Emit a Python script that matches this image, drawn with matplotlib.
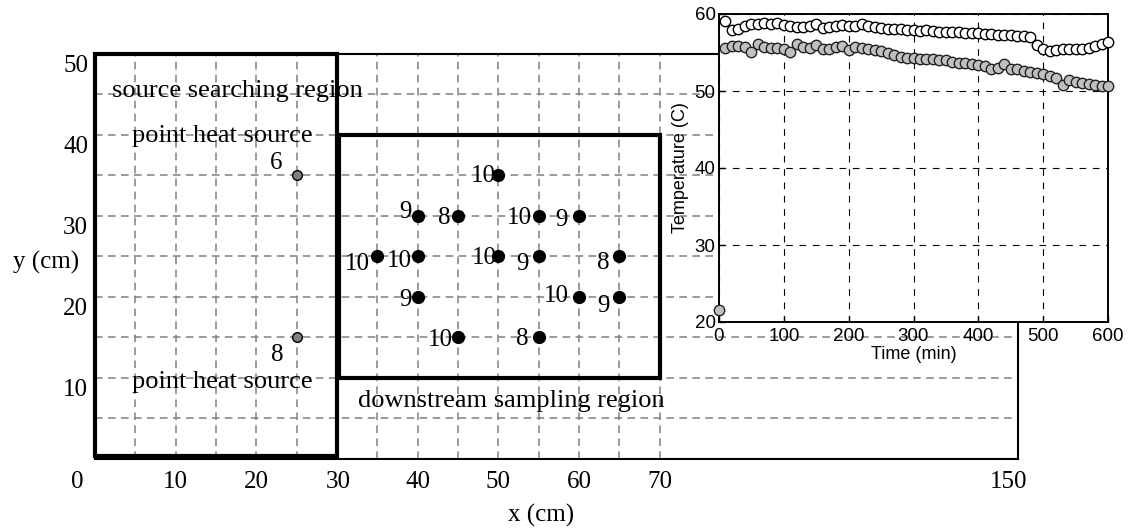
"""Source-searching test bed: sampling layout with an inset of the two heat-source temperatures."""
import numpy as np
import matplotlib
matplotlib.use("Agg")
import matplotlib.pyplot as plt
from matplotlib.patches import Rectangle
from matplotlib.transforms import ScaledTranslation

SERIF = "Liberation Serif"
SANS = "Liberation Sans"

# point heat sources (grey) and downstream sampling points (black), with their counts
SRC_X = [25, 25]
SRC_Y = [35, 15]
SRC_N = ["6", "8"]
SAMP_X = [50, 40, 45, 55, 60, 35, 40, 50, 55, 65, 40, 60, 65, 45, 55]
SAMP_Y = [35, 30, 30, 30, 30, 25, 25, 25, 25, 25, 20, 20, 20, 15, 15]
SAMP_N = ["10", "9", "8", "10", "9", "10", "10", "10", "9", "8", "9", "10", "9", "10", "8"]

X_TICK_LABELS = ["0", "10", "20", "30", "40", "50", "60", "70", "150"]
Y_TICKS = [10, 20, 30, 40, 50]

# inset: source temperatures, sampled every 10 min
OPEN_T = list(range(10, 601, 10))
OPEN_TEMP = [59.1, 57.9, 58.1, 58.4, 58.7, 58.7, 58.8, 58.7, 58.8, 58.6,
             58.5, 58.3, 58.3, 58.4, 58.7, 58.2, 58.3, 58.4, 58.6, 58.4,
             58.5, 58.7, 58.5, 58.3, 58.2, 58.1, 58.0, 58.0, 57.9, 57.9,
             57.8, 57.9, 57.8, 57.6, 57.7, 57.6, 57.6, 57.5, 57.5, 57.5,
             57.4, 57.4, 57.3, 57.3, 57.3, 57.2, 57.2, 57.0, 56.0, 55.4,
             55.2, 55.3, 55.5, 55.4, 55.4, 55.5, 55.6, 55.8, 56.1, 56.4]
GRAY_T = list(range(0, 601, 10))
GRAY_TEMP = [21.6,
             55.6, 55.8, 55.8, 55.7, 55.1, 56.1, 55.7, 55.6, 55.6, 55.5,
             55.1, 56.1, 55.7, 55.6, 56.0, 55.4, 55.5, 55.7, 55.8, 55.3,
             55.7, 55.6, 55.5, 55.3, 55.2, 55.0, 54.7, 54.4, 54.3, 54.3,
             54.2, 54.2, 54.1, 54.0, 54.0, 53.8, 53.6, 53.6, 53.5, 53.4,
             53.2, 52.9, 53.0, 53.5, 52.8, 52.9, 52.6, 52.5, 52.4, 52.2,
             52.0, 51.7, 50.8, 51.4, 51.2, 51.1, 50.9, 50.8, 50.7, 50.6]

# label offsets from each dot, in pixels (right edge of text, +down)
SRC_OFF = [(-14, -12), (-13, 18)]
SAMP_OFF = [(-3, 1), (-6, -3), (-8, 3), (-7, 2), (-11, 5), (-8, 8), (-6, 5), (-2, 2),
            (-10, 8), (-10, 7), (-6, 3), (-10, 0), (-10, 9), (-5, 3), (-10, 2)]

fig = plt.figure(figsize=(11.29, 5.31), dpi=100)
ax = fig.add_axes([95 / 1129, 1 - 458.5 / 531, 923 / 1129, 405 / 531])
XMAX = 114.4
for s in ax.spines.values():
    s.set_linewidth(1.5)

ax.set_xticks([0, 10, 20, 30.2, 40, 50, 60, 70, 113.2], X_TICK_LABELS)
ax.set_yticks(Y_TICKS)
ax.set_xlim(0, XMAX)
ax.set_ylim(0, 50)

grid_kw = dict(colors="#808080", linestyles=(0, (5, 3.5)), linewidth=1.1, zorder=1)
ax.vlines(np.arange(5, 71, 5), 0, 50, **grid_kw)
ax.hlines(np.arange(5, 46, 5), 0, XMAX, **grid_kw)

ax.add_patch(Rectangle((0, 0.35), 30, 49.65, fill=False, lw=3, ec="black", zorder=3, clip_on=False))
ax.add_patch(Rectangle((30.2, 10), 39.8, 30, fill=False, lw=3, ec="black", zorder=3))

ax.text(2.1, 44.6, "source searching region", fontsize=19, family=SERIF, zorder=4)
ax.text(4.6, 39.1, "point heat source", fontsize=19, family=SERIF, zorder=4)
ax.text(4.6, 8.7, "point heat source", fontsize=19, family=SERIF, zorder=4)
ax.text(32.6, 6.4, "downstream sampling region", fontsize=19, family=SERIF, zorder=4)

ax.plot(SRC_X, SRC_Y, "o", ms=7, mfc="#808080", mec="black", mew=1, zorder=5)
ax.plot(SAMP_X, SAMP_Y, "o", ms=8.5, mfc="black", mec="black", zorder=5)
px = 0.72  # points per pixel at 100 dpi
for xs, ys, ns, offs in [(SRC_X, SRC_Y, SRC_N, SRC_OFF), (SAMP_X, SAMP_Y, SAMP_N, SAMP_OFF)]:
    for x, y, n, (dx, dy) in zip(xs, ys, ns, offs):
        ax.annotate(n, (x, y), xytext=(dx * px, -dy * px), textcoords="offset points",
                    ha="right", va="center", fontsize=18, family=SERIF, zorder=4)

ax.tick_params(length=0, labelsize=18)
ax.tick_params(axis="x", pad=9)
ax.tick_params(axis="y", pad=5)
for lab in ax.get_xticklabels() + ax.get_yticklabels():
    lab.set_family(SERIF)
down = ScaledTranslation(0, -0.1, fig.dpi_scale_trans)
for lab in ax.get_yticklabels():
    lab.set_transform(lab.get_transform() + down)
zero = ax.get_xticklabels()[0]
zero.set_transform(zero.get_transform() + ScaledTranslation(-0.18, 0, fig.dpi_scale_trans))

ax.set_xlabel("x (cm)", fontsize=18, family=SERIF)
ax.xaxis.set_label_coords(0.483, -0.1395)
ax.xaxis.label.set_va("center")
ax.set_ylabel("y (cm)", fontsize=18, family=SERIF, rotation=0)
ax.yaxis.set_label_coords(-0.0531, 0.485)
ax.yaxis.label.set_va("center")
ax.yaxis.label.set_ha("center")

# inset
ins = fig.add_axes([719 / 1129, 1 - 322 / 531, 389 / 1129, 308 / 531])
ins.set_facecolor("white")
ins.set_xlim(0, 600)
ins.set_ylim(20, 60)
for s in ins.spines.values():
    s.set_linewidth(1.4)
ins.set_xticks(range(0, 601, 100))
ins.set_yticks(range(20, 61, 10))
ins.grid(True, color="black", linestyle=(0, (6, 6)), linewidth=0.8)
ins.plot(OPEN_T, OPEN_TEMP, "o", ms=7.5, mfc="white", mec="black", mew=1, clip_on=False, zorder=3)
ins.plot(GRAY_T, GRAY_TEMP, "o", ms=7.5, mfc="#c0c0c0", mec="#222222", mew=1, clip_on=False, zorder=4)
ins.tick_params(direction="in", length=4, width=1, labelsize=13.5)
ins.tick_params(axis="x", pad=4)
ins.tick_params(axis="y", pad=2.5)
for lab in ins.get_xticklabels() + ins.get_yticklabels():
    lab.set_family(SANS)
ins.set_xlabel("Time (min)", fontsize=13, family=SANS)
ins.xaxis.set_label_coords(0.5, -0.119)
ins.xaxis.label.set_va("baseline")
ins.set_ylabel("Temperature (C)", fontsize=13, family=SANS)
ins.yaxis.set_label_coords(-0.0977, 0.5)
ins.yaxis.label.set_va("center")

fig.savefig("out.png", dpi=100, facecolor="white")
